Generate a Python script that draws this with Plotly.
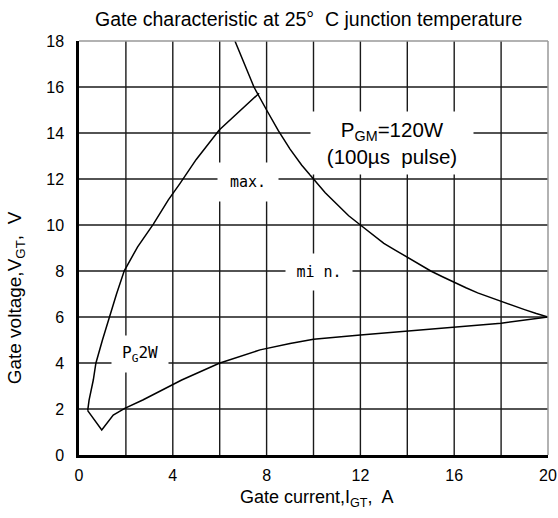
import plotly.graph_objects as go

# ---- data ----
max_i = [0.37, 0.43, 0.61, 0.72, 1.0, 1.29, 1.6, 1.93, 2.5, 3.17, 3.81, 4.31, 5.0, 5.98, 7.0, 7.68]
max_v = [1.93, 2.39, 3.26, 3.99, 5.0, 6.01, 7.0, 8.01, 9.05, 10.04, 11.09, 11.81, 12.85, 14.13, 15.1, 15.73]

min_i = [0.37, 0.97, 1.46, 1.95, 2.72, 4.38, 5.98, 7.72, 9.0, 10.0, 12.0, 14.0, 16.0, 18.0, 20.0]
min_v = [1.93, 1.09, 1.74, 2.03, 2.39, 3.26, 3.99, 4.57, 4.85, 5.03, 5.22, 5.39, 5.55, 5.73, 6.0]

pgm_i = [6.65, 7.0, 7.46, 8.0, 8.5, 9.0, 9.5, 10.0, 10.5, 11.0, 11.5, 12.0, 12.5, 13.0, 13.5,
         14.0, 14.5, 15.0, 15.5, 16.0, 16.5, 17.0, 17.5, 18.0, 18.5, 19.0, 19.5, 20.0]
pgm_v = [18.0, 17.1, 16.0, 15.0, 14.1, 13.3, 12.6, 12.0, 11.4, 10.9, 10.4, 10.0, 9.6, 9.2, 8.9,
         8.6, 8.3, 8.0, 7.75, 7.5, 7.27, 7.05, 6.86, 6.67, 6.49, 6.32, 6.15, 6.0]

x_range = [0, 20]
y_range = [0, 18]
x_tick_step = 4
x_grid_step = 2
y_tick_step = 2

title_text = "Gate characteristic at 25°  C junction temperature"
x_title = "Gate current,I<sub>GT</sub>,  A"
y_title = "Gate voltage,V<sub>GT</sub>,  V"

# labels: (text, x, y, font family, size, box width px, box height px)
labels = [
    ("max.", 7.2, 11.87, "DejaVu Sans Mono", 15, 60, 38),
    ("mi n.", 10.22, 7.97, "DejaVu Sans Mono", 15, 66, 36),
    ("P<sub>G</sub>2W", 2.62, 4.4, "DejaVu Sans Mono", 16, 56, 36),
    ("P<sub>GM</sub>=120W<br>(100µs  pulse)", 13.36, 13.55, "Liberation Sans", 20.5, 162, 62),
]

fig = go.Figure()
line = dict(color="black", width=1.5)
fig.add_trace(go.Scatter(x=max_i, y=max_v, mode="lines", line=line, showlegend=False))
fig.add_trace(go.Scatter(x=min_i, y=min_v, mode="lines", line=line, showlegend=False))
fig.add_trace(go.Scatter(x=pgm_i, y=pgm_v, mode="lines", line=line, showlegend=False))

gridcol = "#1a1a1a"
shapes = []
# grid lines at every grid step, inside the plot (edges are the frame)
for gx in range(x_range[0] + x_grid_step, x_range[1], x_grid_step):
    shapes.append(dict(type="line", xref="x", yref="paper", x0=gx, x1=gx, y0=0, y1=1,
                       line=dict(color=gridcol, width=1.4), layer="between"))
for gy in range(y_range[0] + y_tick_step, y_range[1], y_tick_step):
    shapes.append(dict(type="line", xref="paper", yref="y", x0=0, x1=1, y0=gy, y1=gy,
                       line=dict(color=gridcol, width=1.4), layer="between"))
shapes += [
    dict(type="line", xref="paper", yref="paper", x0=0, x1=1, y0=1, y1=1,
         line=dict(color="#999999", width=1.5), layer="above"),
    dict(type="line", xref="paper", yref="paper", x0=1, x1=1, y0=0, y1=1,
         line=dict(color="#999999", width=1.5), layer="above"),
]

annotations = []
for t, x, y, fam, sz, w, h in labels:
    annotations.append(dict(text=t, x=x, y=y, xref="x", yref="y", showarrow=False,
                            font=dict(family=fam, size=sz, color="black"),
                            bgcolor="white", width=w, height=h, borderpad=0,
                            xanchor="center", yanchor="middle"))
annotations.append(dict(text=title_text, x=0.489, y=1.052, xref="paper", yref="paper",
                        showarrow=False, xanchor="center", yanchor="middle",
                        font=dict(family="Liberation Sans", size=19.5, color="black")))
annotations.append(dict(text=x_title, x=0.507, y=-0.105, xref="paper", yref="paper",
                        showarrow=False, xanchor="center", yanchor="middle",
                        font=dict(family="Liberation Sans", size=18, color="black")))
annotations.append(dict(text=y_title, x=-0.135, y=0.38, xref="paper", yref="paper",
                        showarrow=False, xanchor="center", yanchor="middle", textangle=-90,
                        font=dict(family="Liberation Sans", size=19, color="black")))

fig.update_layout(
    template="none",
    width=558, height=518,
    margin=dict(l=79, r=10, t=41, b=63),
    paper_bgcolor="white", plot_bgcolor="white",
    shapes=shapes, annotations=annotations,
    xaxis=dict(range=x_range, tickmode="linear", tick0=0, dtick=x_tick_step,
               showgrid=False,
               showline=True, linecolor="black", linewidth=2.5, zeroline=False,
               ticks="outside", ticklen=4, tickcolor="rgba(0,0,0,0)",
               tickfont=dict(family="Liberation Sans", size=16, color="black")),
    yaxis=dict(range=y_range, tickmode="linear", tick0=0, dtick=y_tick_step,
               showgrid=False,
               showline=True, linecolor="black", linewidth=2.5, zeroline=False,
               ticks="outside", ticklen=9, tickcolor="rgba(0,0,0,0)",
               tickfont=dict(family="Liberation Sans", size=16, color="black")),
)

fig.write_html("out.html", config={"displayModeBar": False},
               post_script="document.body.style.margin='0px';")
